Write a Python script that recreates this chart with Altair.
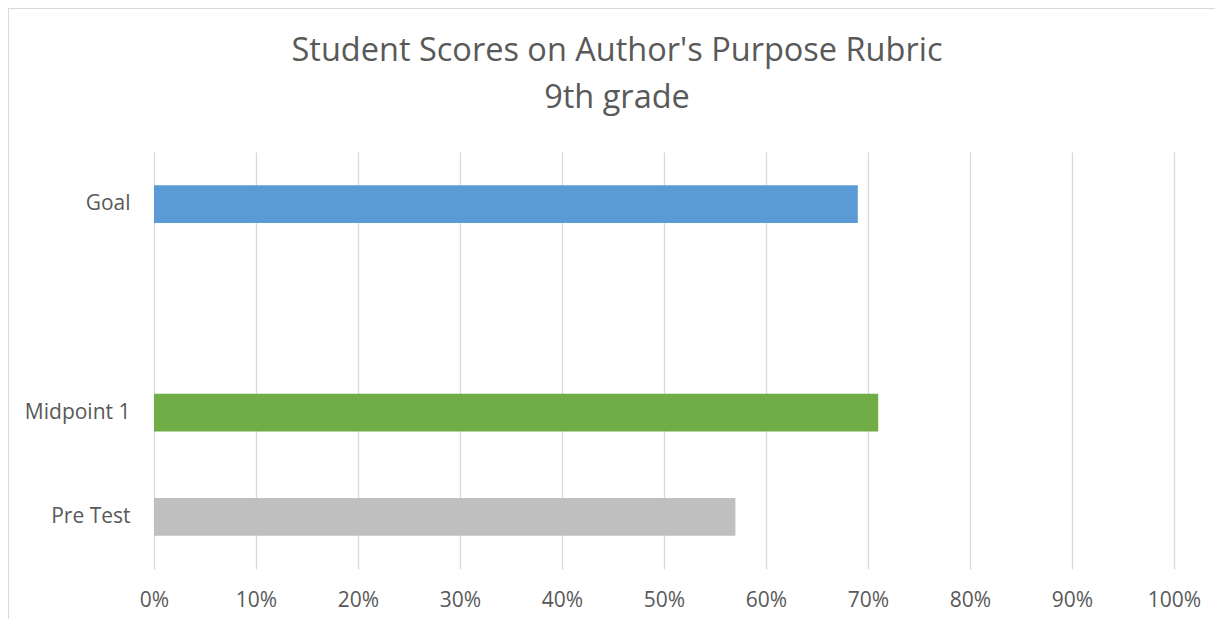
import altair as alt
import pandas as pd

categories = ["Goal", "Midpoint 1", "Pre Test"]
values = [0.69, 0.71, 0.57]
colors = ["#5B9BD5", "#70AD47", "#BFBFBF"]
y_domain = ["Goal", " ", "Midpoint 1", "Pre Test"]
x_ticks = [0, 0.1, 0.2, 0.3, 0.4, 0.5, 0.6, 0.7, 0.8, 0.9, 1.0]

df = pd.DataFrame({"category": categories, "value": values})

FONT = "Open Sans"
TXT = "#595959"

bars = alt.Chart(df).mark_bar().encode(
    x=alt.X("value:Q",
            scale=alt.Scale(domain=[0, 1], nice=False),
            axis=alt.Axis(values=x_ticks, format=".0%", title=None,
                          grid=True, gridColor="#D9D9D9", gridWidth=1.3,
                          domain=False, ticks=False, labelFlush=False,
                          labelFont=FONT, labelFontSize=21, labelColor=TXT,
                          labelPadding=20)),
    y=alt.Y("category:N",
            scale=alt.Scale(domain=y_domain, paddingInner=0.64, paddingOuter=0.32),
            axis=alt.Axis(title=None, domain=False, ticks=False, grid=False,
                          labelFont=FONT, labelFontSize=21, labelColor=TXT,
                          labelPadding=24)),
    color=alt.Color("category:N",
                    scale=alt.Scale(domain=categories, range=colors),
                    legend=None),
)

border = alt.Chart(df).mark_rule(color="#D9D9D9", strokeWidth=1).encode(
    x=alt.value(-145.5), x2=alt.value(1100), y=alt.value(-143.5)
)
border_left = alt.Chart(df).mark_rule(color="#D9D9D9", strokeWidth=1).encode(
    x=alt.value(-145.5), y=alt.value(-143.5), y2=alt.value(500)
)

chart = alt.layer(bars, border, border_left).properties(
    width=1020,
    height=417,
    autosize=alt.AutoSizeParams(type="none"),
    padding={"left": 146, "top": 144, "right": 41, "bottom": 50},
    background="white",
    title=alt.TitleParams(
        text=["Student Scores on Author's Purpose Rubric", "9th grade"],
        font=FONT, fontSize=32.5, fontWeight="normal", color=TXT,
        anchor="middle", baseline="bottom", lineHeight=47,
        dx=-47, offset=0, dy=139,
    ),
).configure_view(stroke=None)

chart.save("out.html", embed_options={"renderer": "svg", "actions": False})
